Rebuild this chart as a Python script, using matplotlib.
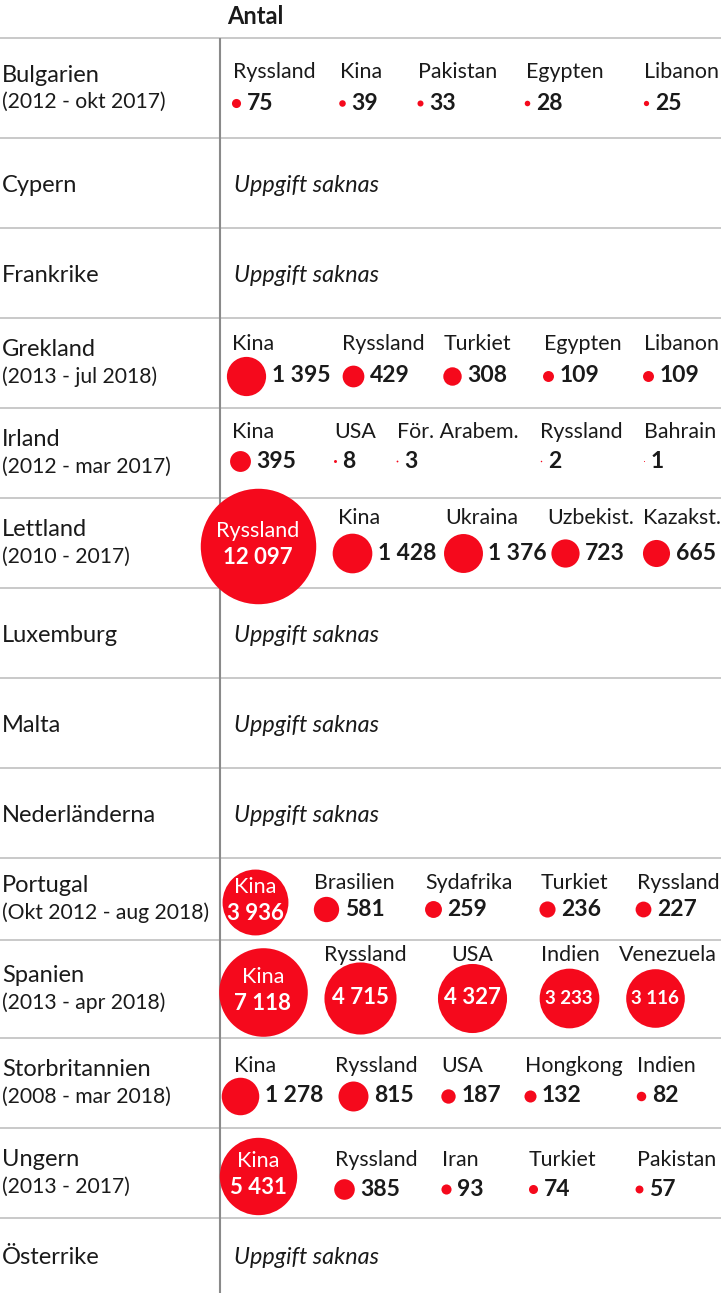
import numpy as np
import matplotlib
matplotlib.use('Agg')
import matplotlib.pyplot as plt

plt.rcParams['font.family'] = ['Lato', 'DejaVu Sans']

# ---- data ----
countries = ['Bulgarien', 'Cypern', 'Frankrike', 'Grekland', 'Irland', 'Lettland',
             'Luxemburg', 'Malta', 'Nederländerna', 'Portugal', 'Spanien',
             'Storbritannien', 'Ungern', 'Österrike']
periods = ['(2012 - okt 2017)', '', '', '(2013 - jul 2018)', '(2012 - mar 2017)',
           '(2010 - 2017)', '', '', '', '(Okt 2012 - aug 2018)', '(2013 - apr 2018)',
           '(2008 - mar 2018)', '(2013 - 2017)', '']
partners = [
    ['Ryssland', 'Kina', 'Pakistan', 'Egypten', 'Libanon'],
    [], [],
    ['Kina', 'Ryssland', 'Turkiet', 'Egypten', 'Libanon'],
    ['Kina', 'USA', 'För. Arabem.', 'Ryssland', 'Bahrain'],
    ['Ryssland', 'Kina', 'Ukraina', 'Uzbekist.', 'Kazakst.'],
    [], [], [],
    ['Kina', 'Brasilien', 'Sydafrika', 'Turkiet', 'Ryssland'],
    ['Kina', 'Ryssland', 'USA', 'Indien', 'Venezuela'],
    ['Kina', 'Ryssland', 'USA', 'Hongkong', 'Indien'],
    ['Kina', 'Ryssland', 'Iran', 'Turkiet', 'Pakistan'],
    [],
]
values = [
    [75, 39, 33, 28, 25],
    [], [],
    [1395, 429, 308, 109, 109],
    [395, 8, 3, 2, 1],
    [12097, 1428, 1376, 723, 665],
    [], [], [],
    [3936, 581, 259, 236, 227],
    [7118, 4715, 4327, 3233, 3116],
    [1278, 815, 187, 132, 82],
    [5431, 385, 93, 74, 57],
    [],
]
missing_text = 'Uppgift saknas'
header = 'Antal'

# ---- layout (pixels) ----
W, H = 721, 1293
row_edges = [38, 138, 228, 318, 408, 498, 588, 678, 768, 858, 940, 1038, 1128, 1218, 1293]
lab_x = [
    [233, 340, 418, 526, 644], [], [],
    [232, 342, 444, 544, 644],
    [232, 334, 397, 540, 644],
    [None, 338, 445, 547, 643], [], [], [],
    [None, 314, 425, 541, 637],
    [None, 365, 472, 570, 668],
    [234, 335, 441, 525, 637],
    [None, 335, 442, 529, 637], [],
]
dot_x = [
    [236, 342, 420, 527, 646], [], [],
    [246, 353, 452, 548, 648],
    [240, 335, 397, 541, 644],
    [258, 352, 463, 565, 656], [], [], [],
    [255, 326, 433, 547, 643],
    [263, 360, 472, 569, 655],
    [240, 353, 448, 530, 641],
    [258, 344, 446, 533, 639], [],
]
lab_y = [72, None, None, 344, 432, 518, None, None, None, 883, 955, 1066, 1160, None]
val_y = [103, None, None, 376, 461, 553, None, None, None, 909, 998, 1096, 1189, None]

K = 0.525  # radius px per sqrt(value)
RED = '#f5091c'
DARK = '#1a1a1a'
DPI = 100


def fmt(v):
    return f'{v:,}'.replace(',', ' ')


fig = plt.figure(figsize=(W / DPI, H / DPI), dpi=DPI)
ax = fig.add_axes([0, 0, 1, 1])
ax.set_xlim(0, W)
ax.set_ylim(H, 0)
ax.axis('off')

# grid
ax.hlines(row_edges[:-1], 0, W, color='#c9c9c9', lw=1.4, zorder=1)
ax.vlines(220, row_edges[0], H, color='#8a8a8a', lw=1.5, zorder=1)

ax.text(227, 16, header, fontsize=17, fontweight='bold', color=DARK, va='center', ha='left')

for i, c in enumerate(countries):
    top, bot = row_edges[i], row_edges[i + 1]
    mid = (top + bot) / 2
    if periods[i]:
        ax.text(2, mid - 13, c, fontsize=17, color=DARK, va='center')
        ax.text(2, mid + 14, periods[i], fontsize=15.2, color=DARK, va='center')
    else:
        ax.text(2, mid + 2, c, fontsize=17, color=DARK, va='center')

    if not values[i]:
        ax.text(234, mid + 2, missing_text, fontsize=16.8, style='italic', color=DARK, va='center')
        continue

    vals = np.array(values[i], dtype=float)
    r = K * np.sqrt(vals)
    for j, (name, v) in enumerate(zip(partners[i], values[i])):
        cx = dot_x[i][j]
        if j == 0 and r[j] > 30:
            # label + value inside bubble
            cy = mid + 3
            ax.scatter([cx], [cy], s=(2 * r[j] * 72 / DPI) ** 2, color=RED, lw=0, zorder=3)
            ax.text(cx, cy - 15, name, fontsize=15.5, color='white', ha='center', va='center', zorder=4)
            ax.text(cx, cy + 11, fmt(v), fontsize=16, fontweight='bold', color='white',
                    ha='center', va='center', zorder=4)
        elif r[j] > 25:
            # label above, value inside
            cy = val_y[i]
            ax.scatter([cx], [cy], s=(2 * r[j] * 72 / DPI) ** 2, color=RED, lw=0, zorder=3)
            ax.text(lab_x[i][j], lab_y[i], name, fontsize=15.4, color=DARK, ha='center', va='center')
            fs = 16 if r[j] > 33 else 13.5
            ax.text(cx, cy, fmt(v), fontsize=fs, fontweight='bold', color='white',
                    ha='center', va='center', zorder=4)
        else:
            cy = val_y[i]
            ax.scatter([cx], [cy], s=(2 * r[j] * 72 / DPI) ** 2, color=RED, lw=0, zorder=3)
            ax.text(lab_x[i][j], lab_y[i], name, fontsize=15.4, color=DARK, ha='left', va='center')
            ax.text(cx + r[j] + 6, cy, fmt(v), fontsize=16.5, fontweight='bold', color=DARK,
                    ha='left', va='center')

fig.savefig('out.png', dpi=DPI)
